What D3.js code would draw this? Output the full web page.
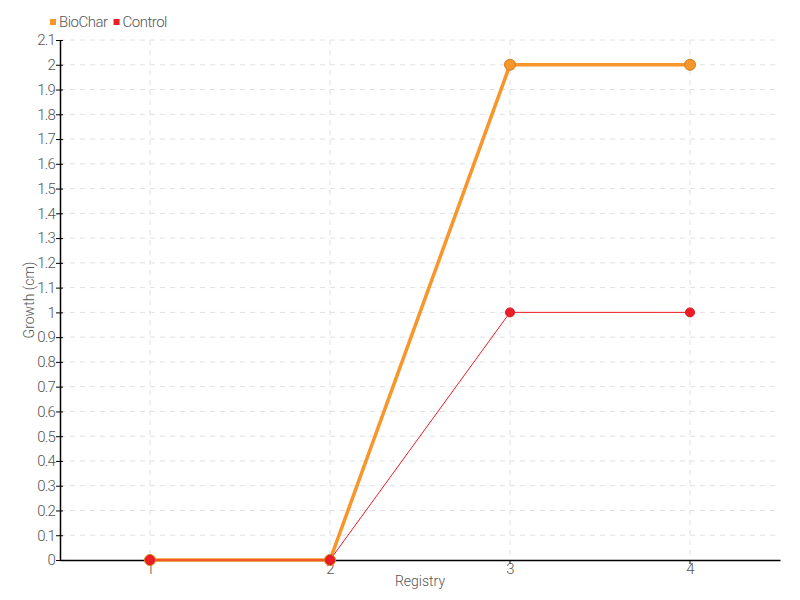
<!DOCTYPE html>
<html>
<head>
<meta charset="utf-8">
<script src="https://cdn.jsdelivr.net/npm/d3@7"></script>
<style>
  body { margin: 0; background: #fff; }
  svg text { font-family: Roboto, "Liberation Sans", sans-serif; font-weight: 300; fill: #555; }
</style>
</head>
<body>
<svg width="800" height="600"></svg>
<script>
// chart data
let categories = ["1", "2", "3", "4"];
let biochar = [0, 0, 2, 2];
let control = [0, 0, 1, 1];
let yTicks = d3.range(0, 22).map(i => i / 10);

let svg = d3.select("svg"),
    margin = {top: 40, right: 20, bottom: 40, left: 60},
    width = 800 - margin.left - margin.right,
    height = 600 - margin.top - margin.bottom;

let g = svg.append("g").attr("transform", `translate(${margin.left},${margin.top})`);

let x = d3.scaleBand().domain(categories).range([0, width]);
let y = d3.scaleLinear().domain([0, 2.1]).range([height, 0]);
let cx = d => x(d) + x.bandwidth() / 2;

// grid
g.append("g")
    .selectAll("line")
    .data(yTicks.slice(1))
    .join("line")
    .attr("x1", 0).attr("x2", width)
    .attr("y1", d => y(d)).attr("y2", d => y(d))
    .attr("stroke", "#e0e0e0")
    .attr("stroke-dasharray", "5,5");

g.append("g")
    .selectAll("line")
    .data(categories)
    .join("line")
    .attr("x1", cx).attr("x2", cx)
    .attr("y1", 0).attr("y2", height)
    .attr("stroke", "#e0e0e0")
    .attr("stroke-dasharray", "5,5");

// axes
let xAxis = g.append("g")
    .attr("transform", `translate(0,${height})`)
    .call(d3.axisBottom(x).tickSize(4).tickSizeOuter(0));
let yAxis = g.append("g")
    .call(d3.axisLeft(y).tickValues(yTicks).tickFormat(d => d3.format("~g")(d)).tickSize(4).tickSizeOuter(0));

[xAxis, yAxis].forEach(a => {
    a.select(".domain").attr("stroke", "#000").attr("stroke-width", 1.5);
    a.selectAll(".tick line").attr("stroke", "#000");
    a.selectAll(".tick text").attr("font-size", 15).attr("letter-spacing", -0.8).style("fill", "#555");
});
yAxis.selectAll(".tick line").attr("x1", 3);
yAxis.selectAll(".tick text").attr("x", -5);
xAxis.selectAll(".tick text").attr("dy", "0.45em");

// axis titles
svg.append("text")
    .attr("x", 420).attr("y", 586)
    .attr("text-anchor", "middle")
    .attr("font-size", 14)
    .text("Registry");

svg.append("text")
    .attr("transform", "translate(34,300) rotate(-90)")
    .attr("text-anchor", "middle")
    .attr("font-size", 14)
    .text("Growth (cm)");

// series
let series = [
    {name: "BioChar", values: biochar, color: "#f7962b", dot: "#d97a1a", width: 3.5, r: 5.5},
    {name: "Control", values: control, color: "#ee1c25", dot: "#d41820", width: 1, r: 4.5}
];

let line = d3.line()
    .x((d, i) => cx(categories[i]))
    .y(d => y(d));

series.forEach(s => {
    g.append("path")
        .datum(s.values)
        .attr("fill", "none")
        .attr("stroke", s.color)
        .attr("stroke-width", s.width)
        .attr("d", line);
});

series.forEach(s => {
    g.append("g")
        .selectAll("circle")
        .data(s.values)
        .join("circle")
        .attr("cx", (d, i) => cx(categories[i]))
        .attr("cy", d => y(d))
        .attr("r", s.r)
        .attr("fill", s.color)
        .attr("stroke", s.dot)
        .attr("stroke-width", 1);
});

// legend
let legend = svg.append("g").attr("transform", "translate(50,16)");
let lx = 0;
series.forEach(s => {
    let item = legend.append("g").attr("transform", `translate(${lx},0)`);
    item.append("rect").attr("width", 6).attr("height", 6).attr("y", 3).attr("fill", s.color);
    let t = item.append("text")
        .attr("x", 9).attr("y", 11)
        .attr("font-size", 15)
        .attr("letter-spacing", -0.5)
        .text(s.name);
    lx += 9 + t.node().getComputedTextLength() + 6;
});
</script>
</body>
</html>
